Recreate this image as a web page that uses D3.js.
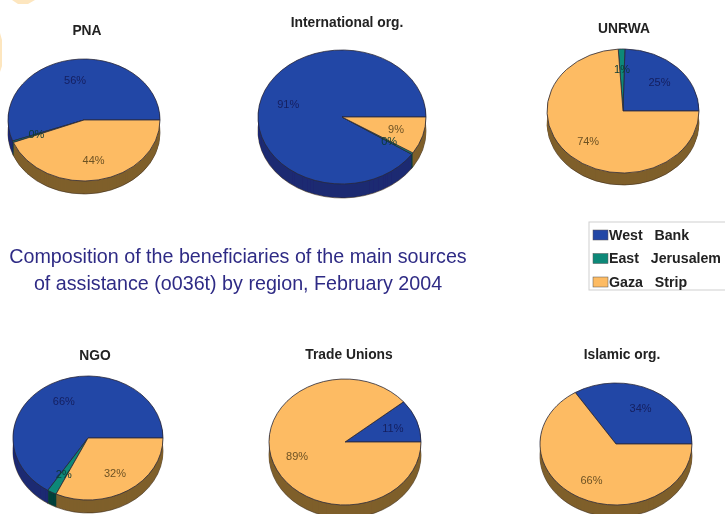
<!DOCTYPE html>
<html>
<head>
<meta charset="utf-8">
<script src="https://cdn.jsdelivr.net/npm/d3@7/dist/d3.min.js"></script>
<style>
html,body{margin:0;padding:0;background:#fff;overflow:hidden}
text{font-family:"Liberation Sans",Arial,sans-serif}
</style>
</head>
<body>
<script>
const regions = ["West   Bank", "East   Jerusalem", "Gaza   Strip"];
const organisations = ["PNA", "International org.", "UNRWA", "NGO", "Trade Unions", "Islamic org."];
const westBank      = [55.6, 90.6, 24.6, 66, 11, 34];
const eastJerusalem = [0.4, 0.4, 1.4, 2, 0, 0];
const gazaStrip     = [44, 9, 74, 32, 89, 66];
const titleLines = [
  "Composition of the beneficiaries of the main sources",
  "of assistance (o036t) by region, February 2004"
];

const topColors  = ["#2446a6", "#0f8878", "#fdbb63"];
const sideColors = ["#1c2a72", "#06403a", "#7f5f2c"];
const labelColors = ["#14205f", "#0a3a35", "#6d5224"];

const layout = [
  {cx: 84,  cy: 120, rx: 76, ry: 61, depth: 13, tx: 87,  ty: 35},
  {cx: 342, cy: 117, rx: 84, ry: 67, depth: 14, tx: 347, ty: 27},
  {cx: 623, cy: 111, rx: 76, ry: 62, depth: 12, tx: 624, ty: 33},
  {cx: 88,  cy: 438, rx: 75, ry: 62, depth: 13, tx: 95,  ty: 360},
  {cx: 345, cy: 442, rx: 76, ry: 63, depth: 13, tx: 349, ty: 359},
  {cx: 616, cy: 444, rx: 76, ry: 61, depth: 12, tx: 622, ty: 359}
];

const svg = d3.select("body").append("svg")
  .attr("width", 725).attr("height", 514)
  .style("display", "block");

const defs = svg.append("defs");
defs.append("filter").attr("id", "soft").attr("x", "-5%").attr("y", "-5%").attr("width", "110%").attr("height", "110%")
  .append("feGaussianBlur").attr("stdDeviation", 0.6);

const root = svg.append("g").attr("filter", "url(#soft)");

// Pale fragments of the page decoration on the cropped edge
root.append("path").attr("d", "M12,0H35L28,4H18Z").attr("fill", "#fde6bf");
root.append("path").attr("d", "M0,33L2,40V66L0,72Z").attr("fill", "#fde6bf");

const pie = d3.pie().sort(null).value(d => d.value)
  .startAngle(Math.PI / 2).endAngle(Math.PI / 2 - 2 * Math.PI);

organisations.forEach((name, i) => {
  const L = layout[i];
  const rows = [westBank[i], eastJerusalem[i], gazaStrip[i]]
    .map((value, k) => ({value, k}));
  const slices = pie(rows).filter(d => d.data.value > 0);
  const arc = d3.arc().innerRadius(0).outerRadius(L.rx);
  const labelArc = d3.arc().innerRadius(L.rx * 0.67).outerRadius(L.rx * 0.67);
  const sy = L.ry / L.rx;

  const g = root.append("g").attr("transform", `translate(${L.cx},${L.cy})`);

  // Extruded wall, built from stacked copies of the same slices
  d3.range(L.depth, 0, -1).forEach(dy => {
    g.append("g")
      .attr("transform", `translate(0,${dy}) scale(1,${sy})`)
      .selectAll("path").data(slices).join("path")
      .attr("d", arc)
      .attr("fill", d => sideColors[d.data.k])
      .attr("stroke", dy === L.depth ? "#3a2a18" : "none")
      .attr("stroke-width", 0.6)
      .attr("vector-effect", "non-scaling-stroke");
  });

  g.append("g")
    .attr("transform", `scale(1,${sy})`)
    .selectAll("path").data(slices).join("path")
    .attr("d", arc)
    .attr("fill", d => topColors[d.data.k])
    .attr("stroke", "#2a2a3a")
    .attr("stroke-width", 0.8)
    .attr("vector-effect", "non-scaling-stroke");

  g.selectAll("text").data(slices).join("text")
    .attr("transform", d => {
      const c = labelArc.centroid(d);
      return `translate(${c[0]},${c[1] * sy})`;
    })
    .attr("text-anchor", "middle")
    .attr("dy", "0.35em")
    .attr("font-size", 11)
    .attr("fill", d => labelColors[d.data.k])
    .text(d => Math.round(d.data.value) + "%");

  root.append("text")
    .attr("x", L.tx).attr("y", L.ty)
    .attr("text-anchor", "middle")
    .attr("font-size", 13.8)
    .attr("font-weight", "bold")
    .attr("fill", "#222")
    .text(name);
});

// Central title
root.selectAll("text.title").data(titleLines).join("text")
  .attr("class", "title")
  .attr("x", 238)
  .attr("y", (d, i) => 263 + i * 26.5)
  .attr("text-anchor", "middle")
  .attr("font-size", 19.7)
  .attr("fill", "#2f2c85")
  .text(d => d);

// Legend
const legend = root.append("g").attr("transform", "translate(589,222)");
legend.append("rect").attr("x", 0).attr("y", 0).attr("width", 140).attr("height", 68)
  .attr("fill", "#fff").attr("stroke", "#cfcfcf").attr("stroke-width", 1);
const row = legend.selectAll("g").data(regions).join("g")
  .attr("transform", (d, i) => `translate(4,${13 + i * 23.5})`);
row.append("rect")
  .attr("x", 0).attr("y", -5).attr("width", 15).attr("height", 10)
  .attr("fill", (d, i) => topColors[i])
  .attr("stroke", "#555").attr("stroke-width", 0.5);
row.append("text")
  .attr("x", 16).attr("dy", "0.35em")
  .attr("font-size", 14.2)
  .attr("font-weight", "bold")
  .attr("fill", "#222")
  .style("white-space", "pre")
  .text(d => d);
</script>
</body>
</html>
